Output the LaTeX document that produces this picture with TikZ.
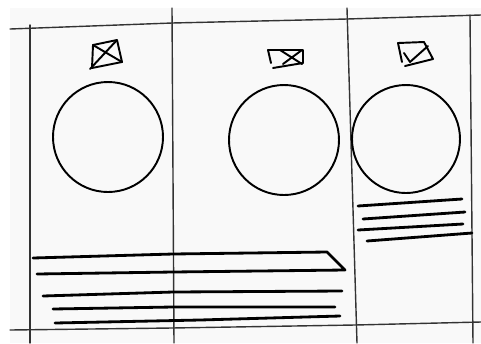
\documentclass[tikz,border=0pt]{standalone}
\begin{document}
\begin{tikzpicture}[x=0.02cm, y=-0.02cm, line cap=round, line join=round]

  \tikzset{
    gridline/.style={black!80, line width=0.8pt},
    pen/.style={black, line width=1.6pt},
    finepen/.style={black, line width=1.1pt}
  }
  \useasboundingbox (0,0) rectangle (481,343);

  % paper
  \fill[gray!5] (10,8) rectangle (481,343);

  % panel frame (faint, slightly skewed)
  \draw[gridline] (10,29) -- (172,23) -- (347,19) -- (481,15);
  \draw[gridline] (10,330) -- (172,328) -- (355,325) -- (481,322);
  \foreach \xt/\yt/\xb in {30/25/30, 172/8/174, 347/8/357, 470/15/473}
    \draw[gridline] (\xt,\yt) -- (\xb,343);

  % check boxes
  \draw[finepen] (93,45) -- (117,40) -- (122,62) -- (92,68) -- cycle;
  \draw[finepen] (93,45) -- (122,62) (117,40) -- (90,69);
  \draw[finepen] (271,63) -- (268,50) -- (303,50) -- (303,63) -- (273,68);
  \draw[finepen] (280,50) -- (302,64) (302,50) -- (283,64);
  \draw[finepen] (402,62) -- (398,43) -- (424,42) -- (433,59) -- (405,66);
  \draw[finepen] (404,53) -- (410,62) -- (428,46);

  % image placeholders
  \foreach \cx/\cy/\r in {108/137/55, 284/140/55, 406/139/54}
    \draw[finepen] (\cx,\cy) circle (\r);

  % text lines, third panel
  \foreach \xa/\ya/\xb/\yb in {358/206/462/199, 363/219/465/212,
                               358/230/463/224, 367/241/472/233}
    \draw[pen] (\xa,\ya) -- (\xb,\yb);

  % heading bar across first two panels
  \draw[pen] (33,258) -- (173,254) -- (327,252) -- (345,270)
             -- (173,272) -- (37,274);

  % text lines across first two panels
  \draw[pen] (43,296) -- (173,292) -- (342,291);
  \draw[pen] (53,309) -- (173,307) -- (335,307);
  \draw[pen] (55,323) -- (200,320) -- (340,316);

\end{tikzpicture}
\end{document}
